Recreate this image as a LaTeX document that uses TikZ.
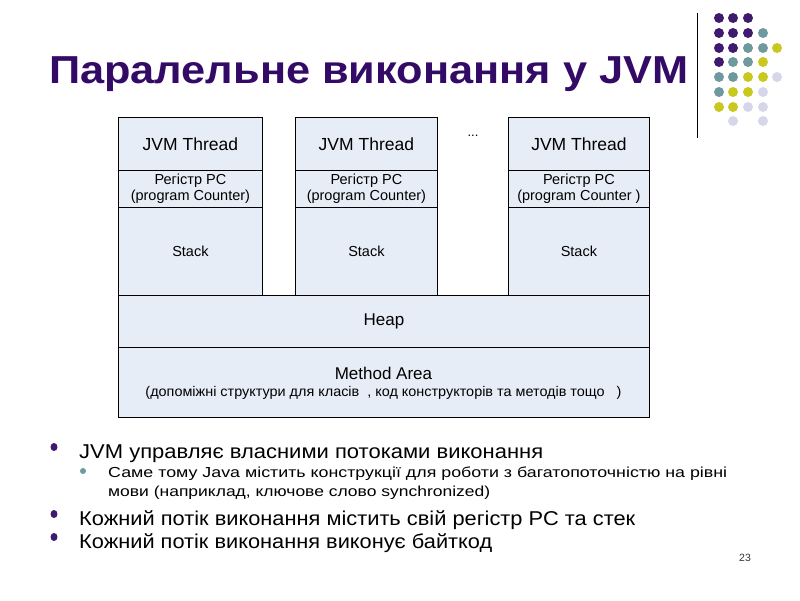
\documentclass[tikz,border=0pt]{standalone}
\usepackage{fontspec}
\usepackage{graphicx}
\setmainfont{Liberation Sans}
\definecolor{boxfill}{HTML}{E7EDF7}
\definecolor{titlecol}{HTML}{330A66}
\definecolor{dpur}{HTML}{3F1A6E}
\definecolor{dteal}{HTML}{6E9A9E}
\definecolor{dyel}{HTML}{C9C81E}
\definecolor{dlav}{HTML}{D6D6EA}
\newcommand{\fitw}[2]{\resizebox{#1}{\height}{#2}}
\begin{document}
\begin{tikzpicture}[x=1pt,y=-1pt,
  cell/.style={draw=black, fill=boxfill, line width=0.8pt, inner sep=0pt, align=center, anchor=north west},
  thr/.style={font=\fontsize{17.5}{20}\selectfont},
  pcs/.style={font=\fontsize{14.5}{16}\selectfont},
  stk/.style={font=\fontsize{14.5}{16}\selectfont},
  txt/.style={anchor=base west, inner sep=0pt},
  mainb/.style={fill=dpur},
  subb/.style={fill=dteal}]
\useasboundingbox (0,0) rectangle (800,600);

% title
\node[txt, text=titlecol, font=\fontsize{39}{44}\bfseries\selectfont] (title) at (49,83) {\fitw{639pt}{Паралельне виконання у JVM}};

% decoration
\draw[line width=0.8pt, black] (697,13) -- (697,138);
\foreach \x/\y/\c in {719/18/dpur,733/18/dpur,748/18/dpur,
  719/33/dpur,733/33/dpur,748/33/dpur,763/33/dteal,
  719/48/dpur,733/48/dpur,748/48/dteal,763/48/dteal,777/48/dyel,
  719/62/dpur,733/62/dteal,748/62/dteal,763/62/dyel,
  719/77/dteal,733/77/dteal,748/77/dyel,763/77/dyel,777/77/dlav,
  719/92/dteal,733/92/dyel,748/92/dyel,763/92/dlav,
  719/107/dyel,733/107/dyel,748/107/dlav,763/107/dlav,
  733/121/dlav,763/121/dlav}
  \fill[\c] (\x,\y) circle (5pt);

% threads
\node[cell, thr, minimum width=144pt, minimum height=53pt] (t1h) at (118,117) {JVM Thread};
\node[cell, pcs, minimum width=144pt, minimum height=37pt] (t1p) at (118,170) {Регістр PC\\(program Counter)};
\node[cell, stk, minimum width=144pt, minimum height=88pt] (t1s) at (118,207) {Stack};

\node[cell, thr, minimum width=142pt, minimum height=53pt] (t2h) at (295,117) {JVM Thread};
\node[cell, pcs, minimum width=142pt, minimum height=37pt] (t2p) at (295,170) {Регістр PC\\(program Counter)};
\node[cell, stk, minimum width=142pt, minimum height=88pt] (t2s) at (295,207) {Stack};

\node[font=\fontsize{13}{15}\selectfont, inner sep=0pt] (dots) at (473,136) {...};

\node[cell, thr, minimum width=141pt, minimum height=53pt] (t3h) at (508,117) {JVM Thread};
\node[cell, pcs, minimum width=141pt, minimum height=37pt] (t3p) at (508,170) {Регістр PC\\(program Counter )};
\node[cell, stk, minimum width=141pt, minimum height=88pt] (t3s) at (508,207) {Stack};

% heap and method area
\node[cell, font=\fontsize{17}{20}\selectfont, minimum width=531pt, minimum height=52pt] (heap) at (118,295) {Heap};
\node[cell, minimum width=531pt, minimum height=70pt] (ma) at (118,347) {};
\node[font=\fontsize{17}{20}\selectfont, inner sep=0pt] (matitle) at (383.5,373) {Method Area};
\node[font=\fontsize{14}{16}\selectfont, inner sep=0pt] (manote) at (383.5,393) {\fitw{476pt}{(допоміжні структури для класів\ \ , код конструкторів та методів тощо\ \ \ )}};

% bullets
\fill[mainb] (54,447) ellipse (3.5pt and 4pt);
\node[txt, font=\fontsize{20}{22}\selectfont] (b1) at (79,458) {\fitw{464pt}{JVM управляє власними потоками виконання}};
\fill[subb] (83,471) circle (3pt);
\node[txt, font=\fontsize{14.5}{17}\selectfont] (s1) at (108,477) {\fitw{619pt}{Саме тому Java містить конструкції для роботи з багатопоточністю на рівні}};
\node[txt, font=\fontsize{14.5}{17}\selectfont] (s2) at (108,496) {\fitw{382pt}{мови (наприклад, ключове слово synchronized)}};
\fill[mainb] (54,514) ellipse (3.5pt and 4pt);
\node[txt, font=\fontsize{20}{22}\selectfont] (b2) at (79,525) {\fitw{556pt}{Кожний потік виконання містить свій регістр PC та стек}};
\fill[mainb] (54,537) ellipse (3.5pt and 4pt);
\node[txt, font=\fontsize{20}{22}\selectfont] (b3) at (79,548) {\fitw{413pt}{Кожний потік виконання виконує байткод}};

% page number
\node[txt, text=black!80, font=\fontsize{10.5}{12}\selectfont] (pg) at (739,561) {23};
\end{tikzpicture}
\end{document}
